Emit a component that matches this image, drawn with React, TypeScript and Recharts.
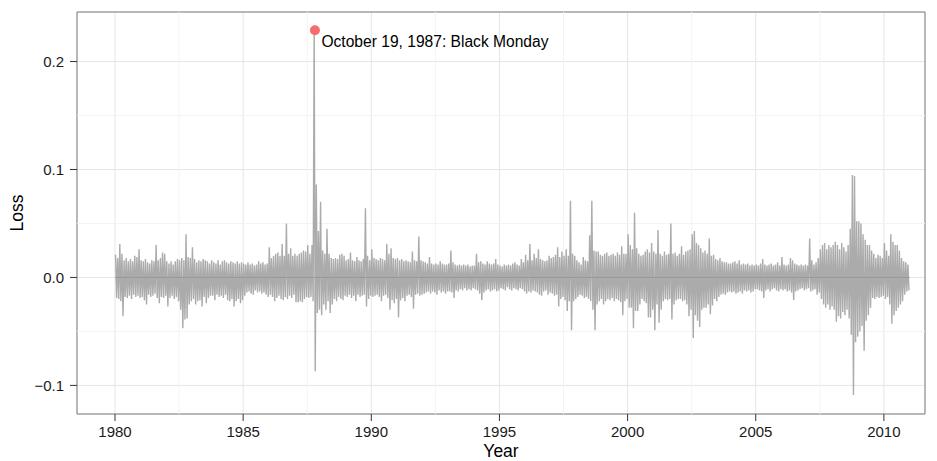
import React from "react";
import {
  LineChart,
  Line,
  XAxis,
  YAxis,
  CartesianGrid,
  ReferenceLine,
  ReferenceArea,
  ReferenceDot,
} from "recharts";

// Monthly envelope of daily S&P 500 log-losses (max loss / min loss per month), Jan 1980 .. Dec 2010
const startYear = 1980;

const monthlyMaxLoss: number[] = [
  0.021, 0.018, 0.031, 0.022, 0.016, 0.018, 0.015, 0.017, 0.015, 0.020, 0.019, 0.026,
  0.016, 0.015, 0.017, 0.014, 0.013, 0.016, 0.015, 0.030, 0.016, 0.018, 0.023, 0.022,
  0.015, 0.013, 0.015, 0.012, 0.015, 0.017, 0.016, 0.018, 0.016, 0.040, 0.019, 0.018,
  0.028, 0.017, 0.014, 0.016, 0.015, 0.017, 0.016, 0.015, 0.013, 0.016, 0.014, 0.013,
  0.016, 0.012, 0.015, 0.016, 0.014, 0.013, 0.015, 0.014, 0.013, 0.015, 0.013, 0.014,
  0.013, 0.012, 0.014, 0.012, 0.013, 0.011, 0.012, 0.015, 0.013, 0.014, 0.012, 0.013,
  0.028, 0.018, 0.020, 0.022, 0.023, 0.020, 0.031, 0.020, 0.050, 0.022, 0.027, 0.020,
  0.022, 0.020, 0.022, 0.023, 0.025, 0.024, 0.030, 0.022, 0.030, 0.229, 0.086, 0.043,
  0.070, 0.025, 0.022, 0.045, 0.022, 0.018, 0.017, 0.018, 0.017, 0.021, 0.022, 0.020,
  0.016, 0.017, 0.023, 0.016, 0.015, 0.019, 0.016, 0.015, 0.017, 0.064, 0.020, 0.016,
  0.026, 0.018, 0.017, 0.016, 0.018, 0.017, 0.016, 0.031, 0.022, 0.027, 0.018, 0.017,
  0.018, 0.016, 0.017, 0.015, 0.016, 0.015, 0.014, 0.024, 0.016, 0.015, 0.038, 0.016,
  0.015, 0.014, 0.013, 0.019, 0.013, 0.012, 0.013, 0.012, 0.015, 0.013, 0.012, 0.012,
  0.013, 0.025, 0.014, 0.012, 0.011, 0.012, 0.011, 0.012, 0.011, 0.012, 0.010, 0.011,
  0.011, 0.022, 0.014, 0.015, 0.013, 0.012, 0.015, 0.013, 0.012, 0.013, 0.017, 0.012,
  0.011, 0.010, 0.012, 0.011, 0.012, 0.011, 0.013, 0.014, 0.012, 0.011, 0.017, 0.014,
  0.021, 0.016, 0.031, 0.016, 0.022, 0.018, 0.026, 0.017, 0.016, 0.015, 0.016, 0.020,
  0.018, 0.019, 0.021, 0.028, 0.019, 0.024, 0.020, 0.026, 0.020, 0.071, 0.022, 0.020,
  0.016, 0.014, 0.012, 0.019, 0.016, 0.015, 0.039, 0.071, 0.025, 0.024, 0.024, 0.021,
  0.020, 0.022, 0.023, 0.020, 0.021, 0.022, 0.020, 0.023, 0.021, 0.029, 0.022, 0.022,
  0.040, 0.030, 0.026, 0.060, 0.027, 0.022, 0.020, 0.021, 0.024, 0.026, 0.023, 0.032,
  0.024, 0.022, 0.044, 0.022, 0.020, 0.024, 0.021, 0.022, 0.050, 0.022, 0.023, 0.020,
  0.022, 0.029, 0.021, 0.024, 0.025, 0.026, 0.040, 0.043, 0.032, 0.030, 0.027, 0.023,
  0.025, 0.022, 0.036, 0.020, 0.021, 0.017, 0.016, 0.018, 0.015, 0.014, 0.014, 0.013,
  0.013, 0.014, 0.015, 0.013, 0.016, 0.012, 0.013, 0.012, 0.013, 0.011, 0.012, 0.011,
  0.012, 0.011, 0.013, 0.017, 0.012, 0.011, 0.012, 0.013, 0.011, 0.012, 0.014, 0.011,
  0.019, 0.012, 0.011, 0.012, 0.018, 0.016, 0.013, 0.012, 0.011, 0.012, 0.011, 0.012,
  0.011, 0.036, 0.016, 0.012, 0.014, 0.018, 0.026, 0.030, 0.032, 0.026, 0.030, 0.028,
  0.030, 0.033, 0.030, 0.026, 0.032, 0.028, 0.024, 0.030, 0.045, 0.095, 0.094, 0.052,
  0.052, 0.050, 0.040, 0.035, 0.030, 0.030, 0.025, 0.022, 0.018, 0.021, 0.020, 0.018,
  0.032, 0.025, 0.020, 0.040, 0.033, 0.030, 0.030, 0.025, 0.018, 0.015, 0.014, 0.012,
];

const monthlyMinLoss: number[] = [
  -0.019, -0.020, -0.022, -0.036, -0.018, -0.019, -0.017, -0.020, -0.016, -0.018, -0.017, -0.019,
  -0.018, -0.021, -0.025, -0.016, -0.018, -0.017, -0.015, -0.019, -0.024, -0.018, -0.019, -0.017,
  -0.027, -0.019, -0.017, -0.020, -0.018, -0.022, -0.030, -0.047, -0.039, -0.038, -0.025, -0.022,
  -0.020, -0.025, -0.022, -0.021, -0.027, -0.018, -0.024, -0.019, -0.017, -0.017, -0.021, -0.016,
  -0.018, -0.017, -0.019, -0.016, -0.021, -0.022, -0.020, -0.027, -0.022, -0.020, -0.024, -0.021,
  -0.017, -0.014, -0.013, -0.015, -0.016, -0.012, -0.014, -0.013, -0.015, -0.014, -0.016, -0.018,
  -0.016, -0.018, -0.022, -0.019, -0.017, -0.020, -0.021, -0.018, -0.020, -0.017, -0.019, -0.016,
  -0.023, -0.023, -0.022, -0.023, -0.020, -0.018, -0.019, -0.018, -0.022, -0.087, -0.033, -0.030,
  -0.035, -0.025, -0.030, -0.022, -0.033, -0.025, -0.020, -0.022, -0.018, -0.020, -0.021, -0.017,
  -0.018, -0.016, -0.019, -0.017, -0.022, -0.016, -0.018, -0.017, -0.016, -0.027, -0.020, -0.017,
  -0.018, -0.017, -0.016, -0.018, -0.022, -0.017, -0.016, -0.019, -0.030, -0.021, -0.024, -0.020,
  -0.037, -0.021, -0.019, -0.022, -0.017, -0.016, -0.018, -0.029, -0.016, -0.015, -0.017, -0.016,
  -0.015, -0.014, -0.013, -0.015, -0.013, -0.014, -0.016, -0.012, -0.014, -0.013, -0.015, -0.013,
  -0.013, -0.014, -0.019, -0.012, -0.013, -0.011, -0.012, -0.010, -0.012, -0.011, -0.012, -0.010,
  -0.011, -0.012, -0.015, -0.021, -0.014, -0.012, -0.011, -0.013, -0.012, -0.011, -0.013, -0.012,
  -0.010, -0.011, -0.012, -0.009, -0.011, -0.012, -0.010, -0.011, -0.012, -0.010, -0.011, -0.013,
  -0.015, -0.013, -0.014, -0.012, -0.013, -0.014, -0.016, -0.017, -0.013, -0.012, -0.016, -0.014,
  -0.015, -0.017, -0.016, -0.027, -0.020, -0.018, -0.021, -0.031, -0.022, -0.049, -0.022, -0.020,
  -0.018, -0.016, -0.017, -0.019, -0.018, -0.020, -0.022, -0.030, -0.049, -0.025, -0.022, -0.020,
  -0.025, -0.022, -0.020, -0.021, -0.019, -0.022, -0.020, -0.021, -0.023, -0.035, -0.022, -0.020,
  -0.028, -0.028, -0.047, -0.031, -0.031, -0.025, -0.020, -0.022, -0.024, -0.037, -0.037, -0.030,
  -0.049, -0.025, -0.042, -0.030, -0.022, -0.020, -0.021, -0.020, -0.039, -0.025, -0.021, -0.020,
  -0.020, -0.022, -0.021, -0.025, -0.036, -0.030, -0.056, -0.035, -0.040, -0.046, -0.030, -0.028,
  -0.028, -0.025, -0.034, -0.026, -0.020, -0.022, -0.018, -0.016, -0.015, -0.016, -0.014, -0.013,
  -0.014, -0.013, -0.015, -0.014, -0.013, -0.015, -0.012, -0.013, -0.012, -0.014, -0.013, -0.011,
  -0.011, -0.012, -0.013, -0.019, -0.012, -0.011, -0.013, -0.011, -0.010, -0.012, -0.013, -0.011,
  -0.012, -0.011, -0.013, -0.012, -0.014, -0.021, -0.013, -0.012, -0.011, -0.010, -0.012, -0.011,
  -0.010, -0.013, -0.012, -0.011, -0.016, -0.014, -0.020, -0.025, -0.028, -0.025, -0.030, -0.027,
  -0.030, -0.041, -0.036, -0.038, -0.032, -0.035, -0.030, -0.038, -0.053, -0.109, -0.060, -0.055,
  -0.050, -0.045, -0.068, -0.040, -0.035, -0.028, -0.019, -0.020, -0.018, -0.019, -0.018, -0.017,
  -0.020, -0.018, -0.025, -0.043, -0.035, -0.031, -0.028, -0.025, -0.022, -0.016, -0.013, -0.012,
];

const xMajorTicks: number[] = [1980, 1985, 1990, 1995, 2000, 2005, 2010];
const xMinorTicks: number[] = [1982.5, 1987.5, 1992.5, 1997.5, 2002.5, 2007.5];
const yMajorTicks: number[] = [-0.1, 0, 0.1, 0.2];
const yMinorTicks: number[] = [-0.05, 0.05, 0.15];

const blackMondayYear = 1987.8;
const blackMondayLoss = 0.229;
const blackMondayLabel = "October 19, 1987: Black Monday";

const xDomain: [number, number] = [1978.517, 2011.604];
const yDomain: [number, number] = [-0.1265, 0.2459];

const data: { year: number; loss: number }[] = [];
monthlyMaxLoss.forEach((hi, i) => {
  data.push({ year: startYear + (i + 0.25) / 12, loss: hi });
  data.push({ year: startYear + (i + 0.75) / 12, loss: monthlyMinLoss[i] });
});
const dataEnd = startYear + monthlyMaxLoss.length / 12;

const FONT = "'Liberation Sans', Arial, Helvetica, sans-serif";

const fmtY = (v: number) =>
  v < 0 ? "\u2212" + Math.abs(v).toFixed(1) : v.toFixed(1);

export default function App() {
  return (
    <div style={{ position: "absolute", left: 0, top: 0, width: 937, height: 461, background: "#fff" }}>
      <LineChart
        width={937}
        height={461}
        data={data}
        margin={{ top: 12, right: 12, bottom: 0, left: 0 }}
        style={{ fontFamily: FONT }}
      >
        <CartesianGrid stroke="#e5e5e5" strokeWidth={1} />
        {xMinorTicks.map((x) => (
          <ReferenceLine key={"xm" + x} x={x} stroke="#f3f3f3" strokeWidth={1} />
        ))}
        {yMinorTicks.map((y) => (
          <ReferenceLine key={"ym" + y} y={y} stroke="#f3f3f3" strokeWidth={1} />
        ))}
        <XAxis
          dataKey="year"
          type="number"
          domain={xDomain}
          ticks={xMajorTicks}
          allowDataOverflow
          height={47}
          axisLine={false}
          tickSize={7}
          tickMargin={5}
          tickLine={{ stroke: "#333", strokeWidth: 1 }}
          tick={{ fill: "#1a1a1a", fontSize: 15, fontFamily: FONT }}
          label={{
            content: () => (
              <text x={501} y={457} textAnchor="middle" fontSize={17.5} fill="#000" fontFamily={FONT}>
                Year
              </text>
            ),
          }}
        />
        <YAxis
          type="number"
          domain={yDomain}
          ticks={yMajorTicks}
          allowDataOverflow
          width={77}
          axisLine={false}
          tickSize={7}
          tickMargin={6}
          tickFormatter={fmtY}
          tickLine={{ stroke: "#333", strokeWidth: 1 }}
          tick={{ fill: "#1a1a1a", fontSize: 15, fontFamily: FONT }}
          label={{
            content: () => (
              <text
                x={23}
                y={213}
                textAnchor="middle"
                fontSize={17.5}
                fill="#000"
                fontFamily={FONT}
                transform="rotate(-90 23 213)"
              >
                Loss
              </text>
            ),
          }}
        />
        <Line
          dataKey="loss"
          type="linear"
          stroke="#ababab"
          strokeWidth={1.4}
          strokeLinejoin="miter"
          dot={false}
          activeDot={false}
          isAnimationActive={false}
        />
        <ReferenceLine
          segment={[
            { x: startYear, y: 0 },
            { x: dataEnd, y: 0 },
          ]}
          stroke="#999"
          strokeWidth={1}
        />
        <ReferenceDot
          x={blackMondayYear}
          y={blackMondayLoss}
          r={5}
          shape={(p: any) => (
            <g>
              <circle cx={p.cx} cy={p.cy} r={5} fill="#f76d6d" stroke="none" />
              <text x={p.cx + 6.5} y={p.cy + 17} fontSize={15.6} fill="#000" fontFamily={FONT}>
                {blackMondayLabel}
              </text>
            </g>
          )}
        />
        <ReferenceArea
          x1={xDomain[0]}
          x2={xDomain[1]}
          y1={yDomain[0]}
          y2={yDomain[1]}
          fill="none"
          fillOpacity={0}
          stroke="#7f7f7f"
          strokeWidth={1}
          ifOverflow="extendDomain"
        />
      </LineChart>
    </div>
  );
}
